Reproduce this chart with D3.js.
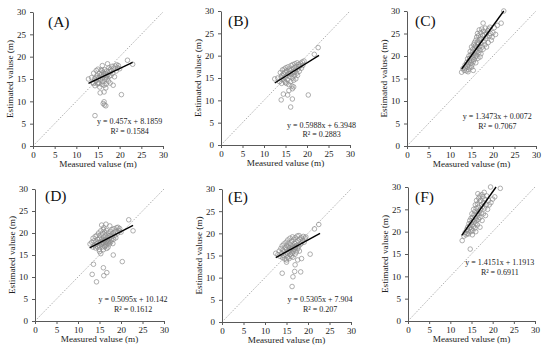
<!DOCTYPE html>
<html><head><meta charset="utf-8">
<script src="https://cdn.jsdelivr.net/npm/d3@7"></script>
<style>body{margin:0;background:#fff}svg{display:block}</style>
</head><body>
<svg id="c" width="550" height="351"></svg>
<script>
const panelLabels = ["(A)","(B)","(C)","(D)","(E)","(F)"];
const tickValues = [0,5,10,15,20,25,30];
const xTitle = "Measured valuse (m)";
const yTitle = "Estimated valuse (m)";
const slopes = [0.457, 0.5988, 1.3473, 0.5095, 0.5305, 1.4151];
const intercepts = [8.1859, 6.3948, 0.0072, 10.142, 7.904, 1.1913];
const eqTexts = ["y = 0.457x + 8.1859","y = 0.5988x + 6.3948","y = 1.3473x + 0.0072","y = 0.5095x + 10.142","y = 0.5305x + 7.904","y = 1.4151x + 1.1913"];
const r2Texts = ["R² = 0.1584","R² = 0.2883","R² = 0.7067","R² = 0.1612","R² = 0.207","R² = 0.6911"];
const fitRanges = [[12.8,23.0],[12.5,22.8],[12.7,22.5],[12.7,22.8],[12.5,22.8],[12.7,20.8]];

const pointsA = [[12.8,15.0],[13.5,15.3],[13.8,14.2],[14.0,16.3],[14.2,15.0],[14.3,13.5],[14.5,14.6],[14.6,16.9],[14.8,15.8],[14.9,13.9],[15.0,17.2],[15.1,15.2],[15.2,14.2],[15.3,16.2],[15.4,13.2],[15.5,15.6],[15.6,14.8],[15.7,17.0],[15.8,16.0],[15.9,13.8],[16.0,18.0],[16.0,15.2],[16.1,14.4],[16.2,16.5],[16.4,12.1],[16.3,15.8],[16.4,13.6],[16.5,17.1],[16.6,14.9],[16.7,16.2],[16.8,15.4],[16.9,13.9],[17.0,16.8],[17.1,15.0],[17.2,18.4],[17.3,16.0],[17.4,14.5],[17.5,17.5],[17.6,15.6],[17.7,16.6],[17.8,14.1],[17.9,17.2],[18.0,15.8],[18.1,16.9],[18.2,17.8],[18.5,13.6],[18.4,16.3],[18.6,17.4],[18.8,15.5],[19.0,17.9],[19.2,16.8],[19.3,18.2],[19.5,17.5],[19.7,18.0],[20.0,17.3],[15.5,11.9],[16.2,9.5],[16.5,9.2],[16.4,9.9],[16.8,9.0],[14.3,6.8],[20.4,11.5],[21.8,19.2],[23.0,18.3],[14.0,14.0],[15.2,14.0],[16.8,13.0],[14.6,15.3],[15.9,16.9],[17.0,15.7]];
const pointsB = [[12.5,14.8],[13.2,15.0],[13.6,14.2],[13.8,16.2],[14.0,15.2],[14.1,13.8],[14.3,16.8],[14.4,14.8],[14.5,15.9],[14.7,17.0],[14.8,14.3],[14.9,16.3],[15.0,15.2],[15.1,17.3],[15.2,13.8],[15.3,16.6],[15.4,15.6],[15.5,14.6],[15.6,17.5],[15.7,16.0],[15.8,13.5],[15.9,17.0],[16.0,15.3],[16.1,16.6],[16.2,14.2],[16.3,17.8],[16.4,15.8],[16.5,13.2],[16.5,16.9],[16.6,15.0],[16.7,18.0],[16.8,16.3],[16.9,14.5],[17.0,17.3],[17.1,15.6],[17.2,18.2],[17.3,16.8],[17.4,14.8],[17.5,17.6],[17.6,16.1],[17.7,18.4],[17.8,15.6],[17.9,17.0],[18.0,18.0],[18.2,16.5],[18.3,17.6],[18.5,18.3],[18.7,17.2],[18.9,18.6],[19.0,17.8],[19.3,18.8],[14.0,10.1],[14.5,11.4],[15.5,11.2],[16.2,8.5],[16.6,10.3],[20.3,11.2],[21.7,20.3],[22.6,21.8],[16.6,12.6],[16.9,13.0],[15.8,12.2],[15.0,14.0],[16.0,16.0],[17.0,16.2],[14.2,15.6]];
const pointsC = [[12.7,16.4],[13.0,17.2],[13.3,16.8],[13.5,18.0],[13.6,17.3],[13.8,16.7],[13.9,18.6],[14.0,17.8],[14.1,19.4],[14.2,18.2],[14.3,17.0],[14.4,20.0],[14.5,18.9],[14.6,19.5],[14.6,17.6],[14.7,21.0],[14.8,18.4],[14.9,20.3],[15.0,19.0],[15.0,22.0],[15.1,18.0],[15.2,20.8],[15.3,19.6],[15.3,21.5],[15.4,18.7],[15.5,22.5],[15.5,20.2],[15.6,19.2],[15.7,21.8],[15.7,23.0],[15.8,20.6],[15.9,19.8],[15.9,22.3],[16.0,21.2],[16.0,23.5],[16.1,20.0],[16.2,22.0],[16.2,24.2],[16.3,21.0],[16.4,23.0],[16.4,25.0],[16.5,21.7],[16.5,19.5],[16.6,22.6],[16.6,24.5],[16.7,20.8],[16.8,23.6],[16.8,25.8],[16.9,22.2],[17.0,24.0],[17.0,21.3],[17.1,25.2],[17.2,22.8],[17.2,20.5],[17.3,23.8],[17.4,26.0],[17.7,27.3],[17.5,22.0],[17.6,24.6],[17.7,21.5],[17.8,25.5],[17.9,23.2],[18.0,24.8],[18.1,22.5],[18.2,26.2],[18.3,23.8],[18.4,25.0],[18.5,22.0],[18.6,24.3],[18.8,25.6],[18.9,23.0],[19.0,26.0],[19.2,24.5],[19.3,26.4],[19.4,25.0],[19.6,23.5],[19.8,24.2],[20.0,25.2],[20.3,26.3],[20.6,24.8],[21.0,26.8],[21.9,27.3],[22.5,30.0],[15.4,16.8],[14.2,16.5],[16.0,18.5],[17.0,19.8],[15.0,17.5]];
const pointsD = [[12.8,17.5],[13.2,17.9],[13.5,16.8],[13.7,18.2],[13.9,17.2],[14.0,19.2],[14.1,16.6],[14.2,18.0],[14.3,17.5],[14.4,19.5],[14.5,16.9],[14.6,18.5],[14.7,17.8],[14.8,20.0],[14.9,16.3],[15.0,18.8],[15.0,17.1],[15.1,19.4],[15.2,18.0],[15.3,15.3],[15.3,20.5],[15.4,17.4],[15.5,21.8],[15.5,18.6],[15.6,16.8],[15.7,19.8],[15.7,17.9],[15.8,18.4],[15.9,20.8],[15.9,16.2],[16.0,17.6],[16.0,19.1],[16.1,18.2],[16.2,20.2],[16.2,16.9],[16.3,17.8],[16.4,19.5],[16.4,18.6],[16.5,22.0],[16.5,17.2],[16.6,18.0],[16.6,20.6],[16.7,16.5],[16.8,19.0],[16.8,17.7],[16.9,18.5],[17.0,20.0],[17.0,16.8],[17.1,18.2],[17.2,19.4],[17.3,17.5],[17.4,21.6],[17.4,18.8],[17.5,20.3],[17.6,17.9],[17.7,19.6],[17.8,18.4],[17.9,20.8],[18.0,19.2],[18.1,17.6],[18.2,20.0],[18.3,18.6],[18.4,21.0],[18.5,19.5],[18.7,20.4],[18.8,18.9],[19.0,21.2],[19.2,20.0],[19.3,21.3],[19.5,20.6],[19.7,21.0],[20.0,20.2],[14.3,8.9],[13.3,10.6],[13.6,12.9],[16.0,10.3],[16.7,11.0],[15.9,12.1],[18.2,15.0],[20.3,13.5],[21.8,23.0],[22.8,20.5],[15.0,15.8],[13.5,18.8],[16.0,21.2],[16.2,18.4],[17.2,18.0],[15.6,17.5]];
const pointsE = [[12.5,15.5],[13.0,15.2],[13.3,16.0],[13.5,14.8],[13.7,16.6],[13.9,15.5],[14.0,17.2],[14.1,14.5],[14.2,16.2],[14.3,15.0],[14.4,17.6],[14.5,15.8],[14.6,14.2],[14.7,16.8],[14.8,15.3],[14.9,18.0],[15.0,16.4],[15.0,14.0],[15.1,17.3],[15.2,15.6],[15.3,18.5],[15.3,14.6],[15.4,16.9],[15.5,15.9],[15.6,17.8],[15.6,14.3],[15.7,16.3],[15.8,18.9],[15.9,15.2],[16.0,17.4],[16.0,16.0],[16.1,14.8],[16.2,18.2],[16.3,16.7],[16.3,15.5],[16.4,19.2],[16.5,17.1],[16.5,14.6],[16.6,15.9],[16.7,18.6],[16.8,16.4],[16.9,17.7],[17.0,15.3],[17.0,19.0],[17.1,16.8],[17.2,18.1],[17.3,15.8],[17.4,17.3],[17.5,19.4],[17.6,16.5],[17.7,18.3],[17.8,17.0],[17.9,19.5],[18.0,16.0],[18.1,18.7],[18.2,17.5],[18.4,19.0],[18.5,17.8],[18.7,18.4],[18.9,19.3],[19.1,18.0],[19.3,18.9],[19.5,19.2],[14.0,11.0],[16.3,8.0],[16.5,10.2],[16.9,11.4],[17.0,12.9],[18.3,11.3],[18.5,14.3],[20.5,15.3],[21.5,21.0],[22.5,22.0],[15.0,13.5],[17.6,14.0],[16.2,16.5],[17.0,17.0],[15.8,16.8]];
const pointsF = [[12.8,18.0],[13.2,19.0],[13.5,19.8],[13.7,19.3],[13.9,20.5],[14.0,19.6],[14.1,21.0],[14.2,20.2],[14.3,19.5],[14.4,21.8],[14.5,20.8],[14.6,22.5],[14.7,16.1],[14.7,21.4],[14.8,20.0],[14.9,23.0],[15.0,22.0],[15.0,20.6],[15.1,24.0],[15.2,21.5],[15.3,23.2],[15.3,20.2],[15.4,22.6],[15.5,25.0],[15.5,21.2],[15.6,23.8],[15.7,22.2],[15.8,24.5],[15.8,20.8],[15.9,26.0],[16.0,23.0],[16.0,21.8],[16.1,25.2],[16.2,22.5],[16.2,27.0],[16.3,24.0],[16.4,21.5],[16.4,26.2],[16.5,23.5],[16.5,28.5],[16.6,25.5],[16.7,22.8],[16.7,27.5],[16.8,24.6],[16.9,26.8],[17.0,23.2],[17.0,28.0],[17.1,25.0],[17.2,27.0],[17.3,24.2],[17.4,26.0],[17.5,28.3],[17.5,22.5],[17.6,25.6],[17.7,27.8],[17.8,24.0],[17.9,26.5],[18.0,28.8],[18.1,25.3],[18.2,27.2],[18.3,23.6],[18.5,26.0],[18.6,28.0],[18.8,25.0],[19.0,27.0],[19.2,26.0],[19.5,30.0],[19.6,26.5],[20.0,27.3],[20.5,27.8],[21.8,29.7],[15.2,19.3],[16.0,20.0],[17.0,21.0],[16.6,24.0]];
const allPoints = [pointsA,pointsB,pointsC,pointsD,pointsE,pointsF];

// layout (pixel boxes of plot areas)
const boxes = [
  {l:33,r:163,t:12,b:146},
  {l:221,r:350,t:11,b:145},
  {l:407,r:536,t:11,b:146},
  {l:35,r:164,t:189,b:321},
  {l:222,r:351,t:189,b:322},
  {l:408,r:535,t:187,b:321}
];
const eqPos = [[22.3,4.9,2.6],[23.4,3.9,1.7],[21.0,5.9,3.7],[22.8,4.4,2.1],[22.8,4.6,2.3],[21.7,12.6,10.4]];
const labelPos = [[48,27],[228,26],[415,26],[45,201],[228,202],[415,202]];

const svg = d3.select("#c");
const font = "'Liberation Serif','Times New Roman',serif";
const axisColor = "#595959";

boxes.forEach((bx,i)=>{
  const x = d3.scaleLinear().domain([0,30]).range([bx.l,bx.r]);
  const y = d3.scaleLinear().domain([0,30]).range([bx.b,bx.t]);
  const g = svg.append("g");

  g.append("line").attr("x1",x(0)).attr("y1",y(0)).attr("x2",x(30)).attr("y2",y(30))
    .attr("stroke","#9a9a9a").attr("stroke-width",0.8).attr("stroke-dasharray","1.5,1.5");

  g.append("g").selectAll("circle").data(allPoints[i]).join("circle")
    .attr("cx",d=>x(d[0])).attr("cy",d=>y(d[1])).attr("r",2.3)
    .attr("fill","none").attr("stroke","#8c8c8c").attr("stroke-width",0.7);

  const fr = fitRanges[i];
  g.append("line").attr("x1",x(fr[0])).attr("y1",y(slopes[i]*fr[0]+intercepts[i]))
    .attr("x2",x(fr[1])).attr("y2",y(Math.min(30,slopes[i]*fr[1]+intercepts[i])))
    .attr("stroke","#000").attr("stroke-width",1.4);

  const xa = g.append("g").attr("transform",`translate(0,${bx.b})`)
    .call(d3.axisBottom(x).tickValues(tickValues).tickSize(3).tickSizeOuter(0).tickPadding(3));
  const ya = g.append("g").attr("transform",`translate(${bx.l},0)`)
    .call(d3.axisLeft(y).tickValues(tickValues).tickSize(3).tickSizeOuter(0).tickPadding(4));
  [xa,ya].forEach(a=>{
    a.select(".domain").attr("stroke",axisColor).attr("stroke-width",1);
    a.selectAll(".tick line").attr("stroke",axisColor);
    a.selectAll("text").attr("font-family",font).attr("font-size",9).attr("fill","#222");
  });

  g.append("text").attr("x",(bx.l+bx.r)/2).attr("y",bx.b+21).attr("text-anchor","middle")
    .attr("font-family",font).attr("font-size",9.2).attr("fill","#222").text(xTitle);
  g.append("text").attr("transform",`translate(${bx.l-20},${(bx.t+bx.b)/2}) rotate(-90)`)
    .attr("text-anchor","middle").attr("font-family",font).attr("font-size",9.2).attr("fill","#222").text(yTitle);

  g.append("text").attr("x",labelPos[i][0]).attr("y",labelPos[i][1])
    .attr("font-family",font).attr("font-size",15.5).attr("fill","#111").text(panelLabels[i]);

  const ep = eqPos[i];
  g.append("text").attr("x",x(ep[0])).attr("y",y(ep[1])).attr("text-anchor","middle")
    .attr("font-family",font).attr("font-size",8).attr("fill","#222").text(eqTexts[i]);
  g.append("text").attr("x",x(ep[0])).attr("y",y(ep[2])).attr("text-anchor","middle")
    .attr("font-family",font).attr("font-size",8).attr("fill","#222").text(r2Texts[i]);
});
</script>
</body></html>
